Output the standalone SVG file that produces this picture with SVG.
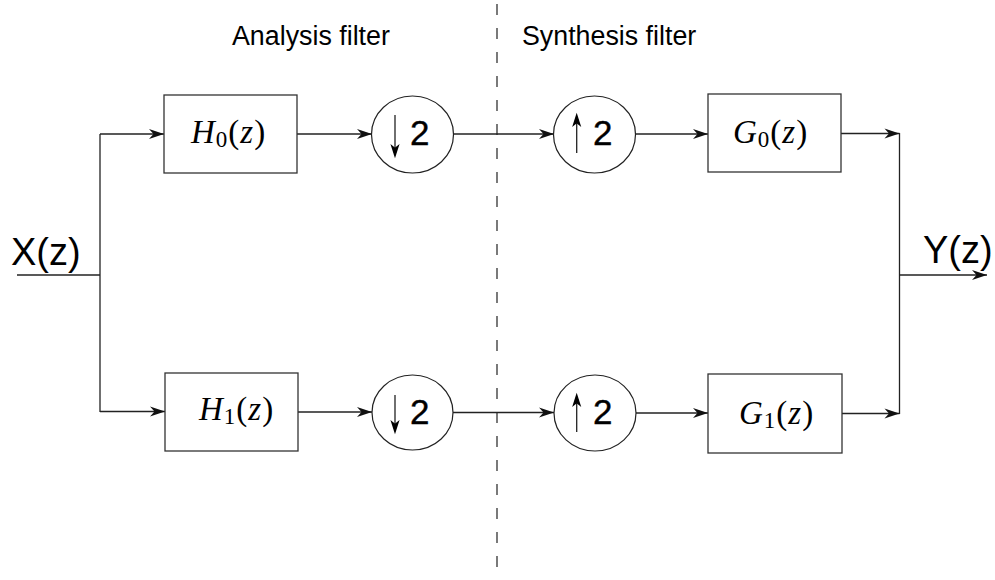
<svg xmlns="http://www.w3.org/2000/svg" width="995" height="580" viewBox="0 0 995 580">
<style>
.box{fill:#fff;stroke:#333;stroke-width:1.3}
.circ{fill:#fff;stroke:#222;stroke-width:1.2}
.ln{fill:none;stroke:#222;stroke-width:1.3}
.arr{fill:none;stroke:#222;stroke-width:1.3;marker-end:url(#ah)}
.math{font-family:"Liberation Serif",serif;font-size:33px;fill:#000;letter-spacing:1px}
.it{font-style:italic}
.sans{font-family:"Liberation Sans",Arial,sans-serif;fill:#000}
.two{font-family:"Liberation Sans",Arial,sans-serif;font-size:35px;fill:#000;stroke:#000;stroke-width:0.4}
.sm{fill:#000;stroke:#000;stroke-width:1.4}
</style>
<defs>
<marker id="ah" markerUnits="userSpaceOnUse" markerWidth="17" markerHeight="12" viewBox="-16 -6 17 12" refX="0" refY="0" orient="auto">
<path d="M0,0 L-15,-5 L-10.5,0 L-15,5 Z" fill="#111"/>
</marker>
</defs>
<rect width="995" height="580" fill="#fff"/>
<line x1="497" y1="4" x2="497" y2="580" stroke="#222" stroke-width="1.2" stroke-dasharray="11 13"/>
<text class="sans" x="232" y="45" font-size="26.8">Analysis filter</text>
<text class="sans" x="522" y="45" font-size="26.8">Synthesis filter</text>
<text class="sans" x="11" y="265" font-size="38">X(z)</text>
<text class="sans" x="923" y="263" font-size="38">Y(z)</text>
<g id="connectors">
<line class="ln" x1="17" y1="275" x2="100" y2="275"/>
<line class="ln" x1="100" y1="134" x2="100" y2="412"/>
<line class="arr" x1="100" y1="134" x2="164" y2="134"/>
<line class="arr" x1="100" y1="411.5" x2="165" y2="411.5"/>
<line class="arr" x1="297" y1="134" x2="372" y2="134"/>
<line class="arr" x1="298" y1="412" x2="372" y2="412"/>
<line class="arr" x1="453" y1="134" x2="554" y2="134"/>
<line class="arr" x1="453" y1="412.5" x2="554" y2="412.5"/>
<line class="arr" x1="636" y1="134" x2="708" y2="134"/>
<line class="arr" x1="636" y1="413" x2="708" y2="413"/>
<line class="arr" x1="841" y1="133.5" x2="899.5" y2="133.5"/>
<line class="arr" x1="839" y1="413.5" x2="899.5" y2="413.5"/>
<line class="ln" x1="899.5" y1="133" x2="899.5" y2="414"/>
<line class="arr" x1="899.5" y1="275" x2="987" y2="275"/>
</g>
<g id="H0">
<rect class="box" x="164" y="95" width="133" height="78"/>
<text class="math" x="191" y="143"><tspan class="it">H</tspan><tspan font-size="23" dy="4">0</tspan><tspan dy="-4">(</tspan><tspan class="it">z</tspan>)</text>
</g>
<g id="H1">
<rect class="box" x="165" y="373" width="133" height="78"/>
<text class="math" x="199" y="420"><tspan class="it">H</tspan><tspan font-size="23" dy="4">1</tspan><tspan dy="-4">(</tspan><tspan class="it">z</tspan>)</text>
</g>
<g id="G0">
<rect class="box" x="708" y="94" width="133" height="78"/>
<text class="math" x="733" y="143"><tspan class="it">G</tspan><tspan font-size="23" dy="4">0</tspan><tspan dy="-4">(</tspan><tspan class="it">z</tspan>)</text>
</g>
<g id="G1">
<rect class="box" x="708" y="374" width="134" height="79"/>
<text class="math" x="739" y="424"><tspan class="it">G</tspan><tspan font-size="23" dy="4">1</tspan><tspan dy="-4">(</tspan><tspan class="it">z</tspan>)</text>
</g>
<g id="down0">
<ellipse class="circ" cx="412.5" cy="134.5" rx="41" ry="38.5"/>
<line class="ln" x1="395" y1="115" x2="395" y2="150"/>
<path class="sm" d="M395,156 L391.8,146 L395,148.5 L398.2,146 Z"/>
<text class="two" x="410" y="145">2</text>
</g>
<g id="down1">
<ellipse class="circ" cx="412.5" cy="412.5" rx="40.5" ry="37.5"/>
<line class="ln" x1="395" y1="395" x2="395" y2="426"/>
<path class="sm" d="M395,432 L391.8,422 L395,424.5 L398.2,422 Z"/>
<text class="two" x="410" y="423.5">2</text>
</g>
<g id="up0">
<ellipse class="circ" cx="594.5" cy="134.5" rx="41" ry="38.5"/>
<line class="ln" x1="576.7" y1="121" x2="576.7" y2="153"/>
<path class="sm" d="M576.7,115 L573.5,125 L576.7,122.5 L579.9,125 Z"/>
<text class="two" x="593" y="145">2</text>
</g>
<g id="up1">
<ellipse class="circ" cx="595" cy="413" rx="41" ry="38"/>
<line class="ln" x1="576.7" y1="401" x2="576.7" y2="432"/>
<path class="sm" d="M576.7,395 L573.5,405 L576.7,402.5 L579.9,405 Z"/>
<text class="two" x="593" y="423.5">2</text>
</g>
</svg>
